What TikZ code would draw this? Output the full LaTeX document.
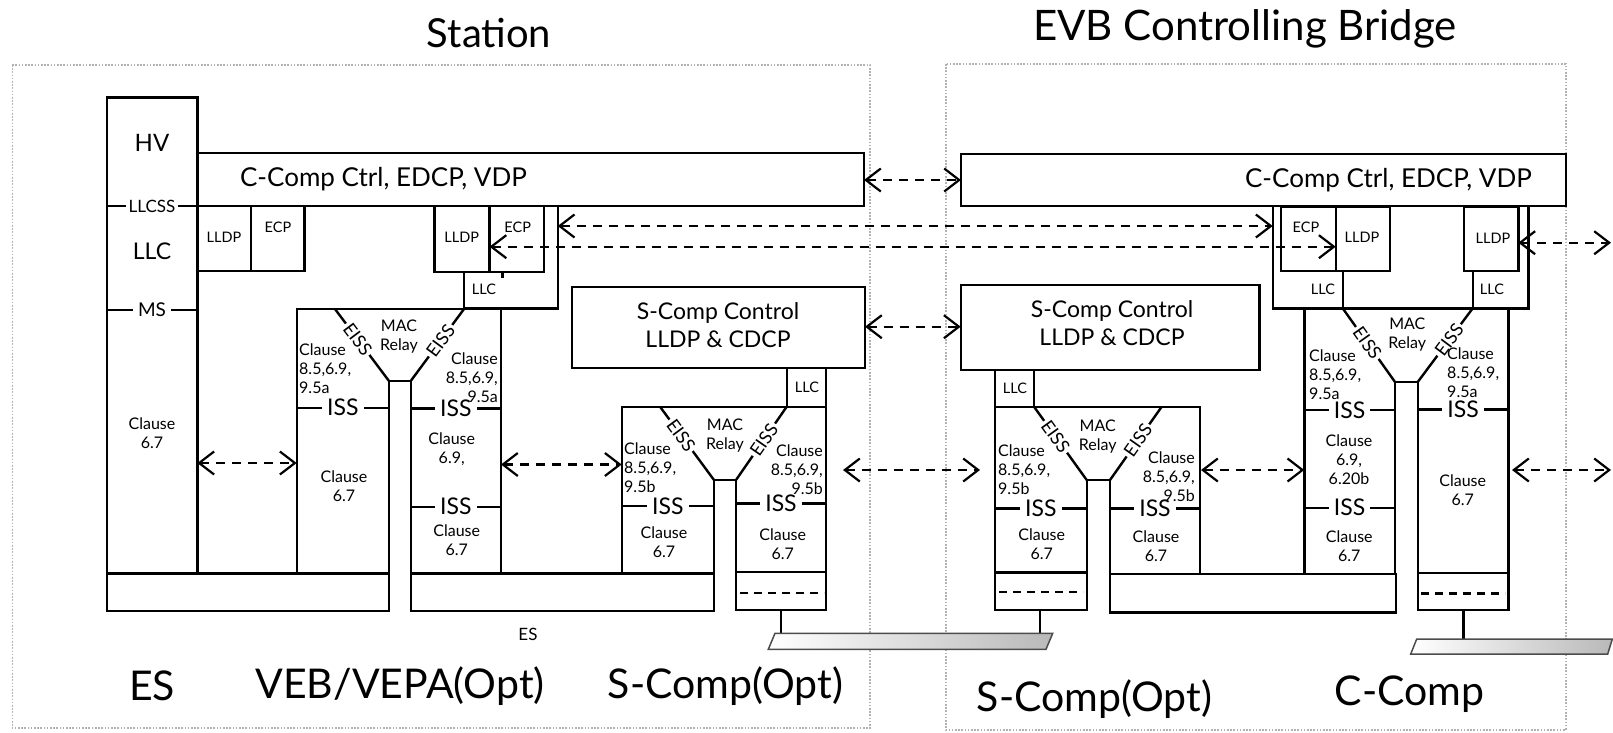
\documentclass[tikz,border=0pt]{standalone}
\usepackage{fontspec}
\setmainfont{Lato}
\usetikzlibrary{arrows.meta}
\newcommand\mybox[5]{\node[box, minimum width={(#4)-(#2)}, minimum height={(#5)-(#3)}] (#1) at ({((#2)+(#4))/2},{((#3)+(#5))/2}) {};}
\tikzset{
 box/.style={draw, line width=2.4pt, inner sep=0pt, outer sep=0pt},
 ln/.style={line width=2.4pt},
 dln/.style={line width=2.4pt, dash pattern=on 8pt off 6pt},
 frame/.style={draw=gray!60, line width=1.6pt, dash pattern=on 1.6pt off 1.6pt},
 darr/.style={line width=2.2pt, dash pattern=on 9pt off 7pt, {Straight Barb[length=15pt,width=23pt]}-{Straight Barb[length=15pt,width=23pt]}},
 ttitle/.style={font=\fontsize{40}{44}\selectfont, inner sep=0pt},
 tbig/.style={font=\fontsize{41}{44}\selectfont, inner sep=0pt},
 tmid/.style={font=\fontsize{23}{28}\selectfont, inner sep=0pt, align=center},
 tctrl/.style={font=\fontsize{26}{28}\selectfont, inner sep=0pt},
 tcl/.style={font=\fontsize{16}{19}\selectfont, inner sep=0pt},
 tiss/.style={font=\fontsize{23}{24}\selectfont, fill=white, inner xsep=5pt, inner ysep=0pt},
 teiss/.style={font=\fontsize{18}{20}\selectfont, fill=white, inner xsep=2pt, inner ysep=0pt, sloped},
 tsm/.style={font=\fontsize{14.5}{16}\selectfont, inner sep=0pt},
 tmac/.style={font=\fontsize{16}{19}\selectfont, inner sep=0pt, align=center},
 tlab/.style={font=\fontsize{17}{20}\selectfont, fill=white, inner xsep=3pt, inner ysep=0pt},
 lan/.style={left color=white, right color=gray!55, draw=black!70, line width=1.5pt},
}
\begin{document}
\begin{tikzpicture}[x=1pt,y=-1pt]
\useasboundingbox (0,0) rectangle (1613,732);

% dotted frames
\draw[frame] (12.3,65) rectangle (870,728);
\draw[frame] (945.7,64) rectangle (1565.7,730);

\node[ttitle] (tSt) at (489,33) {Station};
\node[ttitle,font=\fontsize{42}{46}\selectfont] (tEVB) at (1245,29) {EVB Controlling Bridge};

% ===== Station =====
\mybox{hv}{106.7}{97.3}{197.3}{573.3}
\mybox{sccs}{197.3}{152.7}{864}{206}
\mybox{slldpa}{197.3}{206}{250.7}{271}
\mybox{secpa}{250.7}{206}{304.3}{271}
\mybox{slldpb}{434.3}{206}{489.5}{272}
\mybox{secpb}{489.5}{206}{544}{272}
\draw[ln] (544,206) -- (557.7,206) -- (557.7,308.3) -- (464,308.3) -- (464,272);
\draw[ln] (502.3,272) -- (502.3,278);

\node[font=\fontsize{24}{26}\selectfont, inner sep=0pt] (tHV) at (152,143) {HV};
\node[font=\fontsize{23}{26}\selectfont, inner sep=0pt] (tLLC0) at (152,251.7) {LLC};
\draw[ln] (106.7,206) -- node[tlab] (tLLCSS) {LLCSS} (197.3,206);
\draw[ln] (106.7,310) -- node[tlab,font=\fontsize{19}{20}\selectfont, inner xsep=5pt] (tMS) {MS} (197.3,310);
\node[tcl, align=center] (tHVc) at (152,433) {Clause\\6.7};
\node[tctrl] (tsccs) at (383.5,179) {C-Comp Ctrl, EDCP, VDP};
\node[tsm] (tslldpa) at (224,237) {LLDP};
\node[tsm] (tsecpa) at (278,227) {ECP};
\node[tsm] (tslldpb) at (461.7,237) {LLDP};
\node[tsm] (tsecpb) at (517.7,227) {ECP};
\node[tsm] (tsllcb) at (484,289) {LLC};

% VEB / VEPA
\draw[ln] (296.7,573.3) -- (296.7,309) -- (501,309) -- (501,573.3);
\draw[ln] (389,573.3) -- (389,381) -- (410.7,381) -- (410.7,573.3);
\node[tmac] (tmac1) at (399,337) {MAC\\Relay};
\draw[ln] (335,309) -- node[teiss,pos=0.42] (e1) {EISS} (389,381);
\draw[ln] (410.7,381) -- node[teiss,pos=0.56] (e2) {EISS} (464,309);
\draw[ln] (296.7,407.7) -- node[tiss] (i1) {ISS} (389,407.7);
\draw[ln] (410.7,408.3) -- node[tiss] (i2) {ISS} (501,408.3);
\draw[ln] (410.7,506.7) -- node[tiss] (i3) {ISS} (501,506.7);
\node[tcl, align=left, anchor=west] (c1) at (299,369) {Clause\\8.5,6.9,\\9.5a};
\node[tcl, align=center] (c2) at (344,486) {Clause\\6.7};
\node[tcl, align=right, anchor=east] (c3) at (498,378) {Clause\\8.5,6.9,\\9.5a};
\node[tcl, align=center] (c4) at (451.7,449) {Clause\\6.9,};
\node[tcl, align=center] (c5) at (456.7,540) {Clause\\6.7};
\mybox{sbara}{106.7}{573.3}{389}{610.7}
\mybox{sbarb}{410.7}{573.3}{714}{610.7}
\node[font=\fontsize{17}{20}\selectfont, inner sep=0pt] (tES) at (528,634) {ES};

% S-Comp station
\mybox{sscc}{571.7}{286.7}{865}{367.7}
\node[tmid] (tsscc) at (718,325) {S-Comp Control\\LLDP \& CDCP};
\mybox{sllcc}{786.7}{367.7}{826}{406.7}
\node[tsm] (tsllcc) at (807,387) {LLC};
\draw[ln] (621.7,573.3) -- (621.7,406.7) -- (826,406.7) -- (826,610) -- (736,610) -- (736,480) -- (714,480) -- (714,573.3);
\draw[ln] (736,572) -- (826,572);
\draw[dln] (740,593) -- (824,593);
\node[tmac] (tmac2) at (725,436) {MAC\\Relay};
\draw[ln] (660,406.7) -- node[teiss,pos=0.39] (e3) {EISS} (714,480);
\draw[ln] (736,480) -- node[teiss,pos=0.55] (e4) {EISS} (786.7,406.7);
\draw[ln] (621.7,506) -- node[tiss] (i4) {ISS} (714,506);
\draw[ln] (736,503.3) -- node[tiss] (i5) {ISS} (826,503.3);
\node[tcl, align=left, anchor=west] (c6) at (624,467.5) {Clause\\8.5,6.9,\\9.5b};
\node[tcl, align=center] (c7) at (664,542.5) {Clause\\6.7};
\node[tcl, align=right, anchor=east] (c8) at (823,469.5) {Clause\\8.5,6.9,\\9.5b};
\node[tcl, align=center] (c9) at (782.7,544) {Clause\\6.7};
\coordinate (stemA) at (780.7,610);
\coordinate (stemAb) at (780.7,633.3);
\draw[ln] (stemA) -- (stemAb);

% ===== Bridge =====
\mybox{bccs}{961}{154}{1566}{206}
\node[tctrl] (tbccs) at (1388.5,180) {C-Comp Ctrl, EDCP, VDP};
\mybox{becp}{1280.7}{207}{1335.7}{271}
\mybox{blldpa}{1335.7}{207}{1390}{271}
\mybox{blldpb}{1464}{207}{1518.3}{271}
\node[tsm] (tbecp) at (1306,227) {ECP};
\node[tsm] (tblldpa) at (1362,237) {LLDP};
\node[tsm] (tblldpb) at (1493,238) {LLDP};
\draw[ln] (1272.7,206) -- (1272.7,308.3) -- (1528.3,308.3) -- (1528.3,206);
\draw[ln] (1342.7,271) -- (1342.7,308.3);
\draw[ln] (1472.7,271) -- (1472.7,308.3);
\node[tsm] (tbllca) at (1323,289) {LLC};
\node[tsm] (tbllcb) at (1492,289) {LLC};

% S-Comp bridge
\mybox{bscc}{960.7}{285}{1259.3}{370}
\node[tmid] (tbscc) at (1112,323) {S-Comp Control\\LLDP \& CDCP};
\mybox{bllcc}{995}{370}{1034}{406.7}
\node[tsm] (tbllcc) at (1015,388) {LLC};
\draw[ln] (1086.7,480) -- (1086.7,610) -- (995,610) -- (995,406.7) -- (1200,406.7) -- (1200,574);
\draw[ln] (1086.7,480) -- (1110,480) -- (1110,574);
\draw[ln] (995,572.3) -- (1086.7,572.3);
\draw[dln] (999,591.7) -- (1083,591.7);
\node[tmac] (tmac3) at (1097.7,437) {MAC\\Relay};
\draw[ln] (1034,406.7) -- node[teiss,pos=0.41] (e5) {EISS} (1086.7,480);
\draw[ln] (1110,480) -- node[teiss,pos=0.54] (e6) {EISS} (1161.7,406.7);
\draw[ln] (995,508.3) -- node[tiss] (i6) {ISS} (1086.7,508.3);
\draw[ln] (1110,508.3) -- node[tiss] (i7) {ISS} (1200,508.3);
\node[tcl, align=left, anchor=west] (c10) at (998,469.3) {Clause\\8.5,6.9,\\9.5b};
\node[tcl, align=center] (c11) at (1041.7,544) {Clause\\6.7};
\node[tcl, align=right, anchor=east] (c12) at (1195,476.5) {Clause\\8.5,6.9,\\9.5b};
\node[tcl, align=center] (c13) at (1156,546) {Clause\\6.7};
\mybox{bbar}{1110}{574}{1395.7}{612.3}
\coordinate (stemB) at (1040,610);
\coordinate (stemBb) at (1040,633.3);
\draw[ln] (stemB) -- (stemBb);

% C-Comp bridge body
\draw[ln] (1304.3,308.3) -- (1304.3,574);
\draw[ln] (1395,574) -- (1395,382) -- (1417.7,382) -- (1417.7,610) -- (1508.3,610) -- (1508.3,308.3);
\draw[ln] (1417.7,572.7) -- (1508.3,572.7);
\draw[dln] (1421,593.3) -- (1505,593.3);
\node[tmac] (tmac4) at (1407.3,334.5) {MAC\\Relay};
\draw[ln] (1342.7,308.3) -- node[teiss,pos=0.47] (e7) {EISS} (1395,382);
\draw[ln] (1417.7,382) -- node[teiss,pos=0.57] (e8) {EISS} (1472.7,308.3);
\draw[ln] (1304.3,410) -- node[tiss] (i8) {ISS} (1395,410);
\draw[ln] (1304.3,507.7) -- node[tiss] (i9) {ISS} (1395,507.7);
\draw[ln] (1417.7,409.3) -- node[tiss] (i10) {ISS} (1508.3,409.3);
\node[tcl, align=left, anchor=west] (c14) at (1309,374.7) {Clause\\8.5,6.9,\\9.5a};
\node[tcl, align=center] (c15) at (1349,459.3) {Clause\\6.9,\\6.20b};
\node[tcl, align=center] (c16) at (1349.3,546) {Clause\\6.7};
\node[tcl, align=left, anchor=west] (c17) at (1447,372.5) {Clause\\8.5,6.9,\\9.5a};
\node[tcl, align=center] (c18) at (1462.7,489.7) {Clause\\6.7};
\coordinate (stemC) at (1463.3,610);
\coordinate (stemCb) at (1463.3,639);
\draw[ln] (stemC) -- (stemCb);

% LAN segments
\draw[lan] (775,633.3) -- (1052.7,633.3) -- (1046,649.3) -- (768.3,649.3) -- cycle;
\draw[lan] (1416.7,639) -- (1612.3,639) -- (1607.7,654) -- (1410.7,654) -- cycle;

% arrows
\coordinate (a1l) at (864,180);     \coordinate (a1r) at (961,180);
\coordinate (a2l) at (557.7,226);   \coordinate (a2r) at (1272.7,226);
\coordinate (a3l) at (489.5,246.7); \coordinate (a3r) at (1335.7,246.7);
\coordinate (a4l) at (865,326.7);   \coordinate (a4r) at (960.7,326.7);
\coordinate (a5l) at (197.3,463);   \coordinate (a5r) at (296.7,463);
\coordinate (a6l) at (501,464.5);   \coordinate (a6r) at (621.7,464.5);
\coordinate (a7l) at (843,470);     \coordinate (a7r) at (980,470);
\coordinate (a8l) at (1201,470);    \coordinate (a8r) at (1304.3,470);
\coordinate (a9l) at (1512,470);    \coordinate (a9r) at (1611,470);
\coordinate (a10l) at (1518.3,242.7); \coordinate (a10r) at (1611,242.7);
\foreach \n in {1,...,10} {\draw[darr] (a\n l) -- (a\n r);}

% bottom labels
\node[tbig] (bES) at (152,686) {ES};
\node[tbig] (bVEB) at (400,686) {VEB/VEPA(Opt)};
\node[tbig] (bSC1) at (725.5,686) {S-Comp(Opt)};
\node[tbig] (bSC2) at (1094.5,699) {S-Comp(Opt)};
\node[tbig] (bCC) at (1409.5,694) {C-Comp};
\end{tikzpicture}
\end{document}
